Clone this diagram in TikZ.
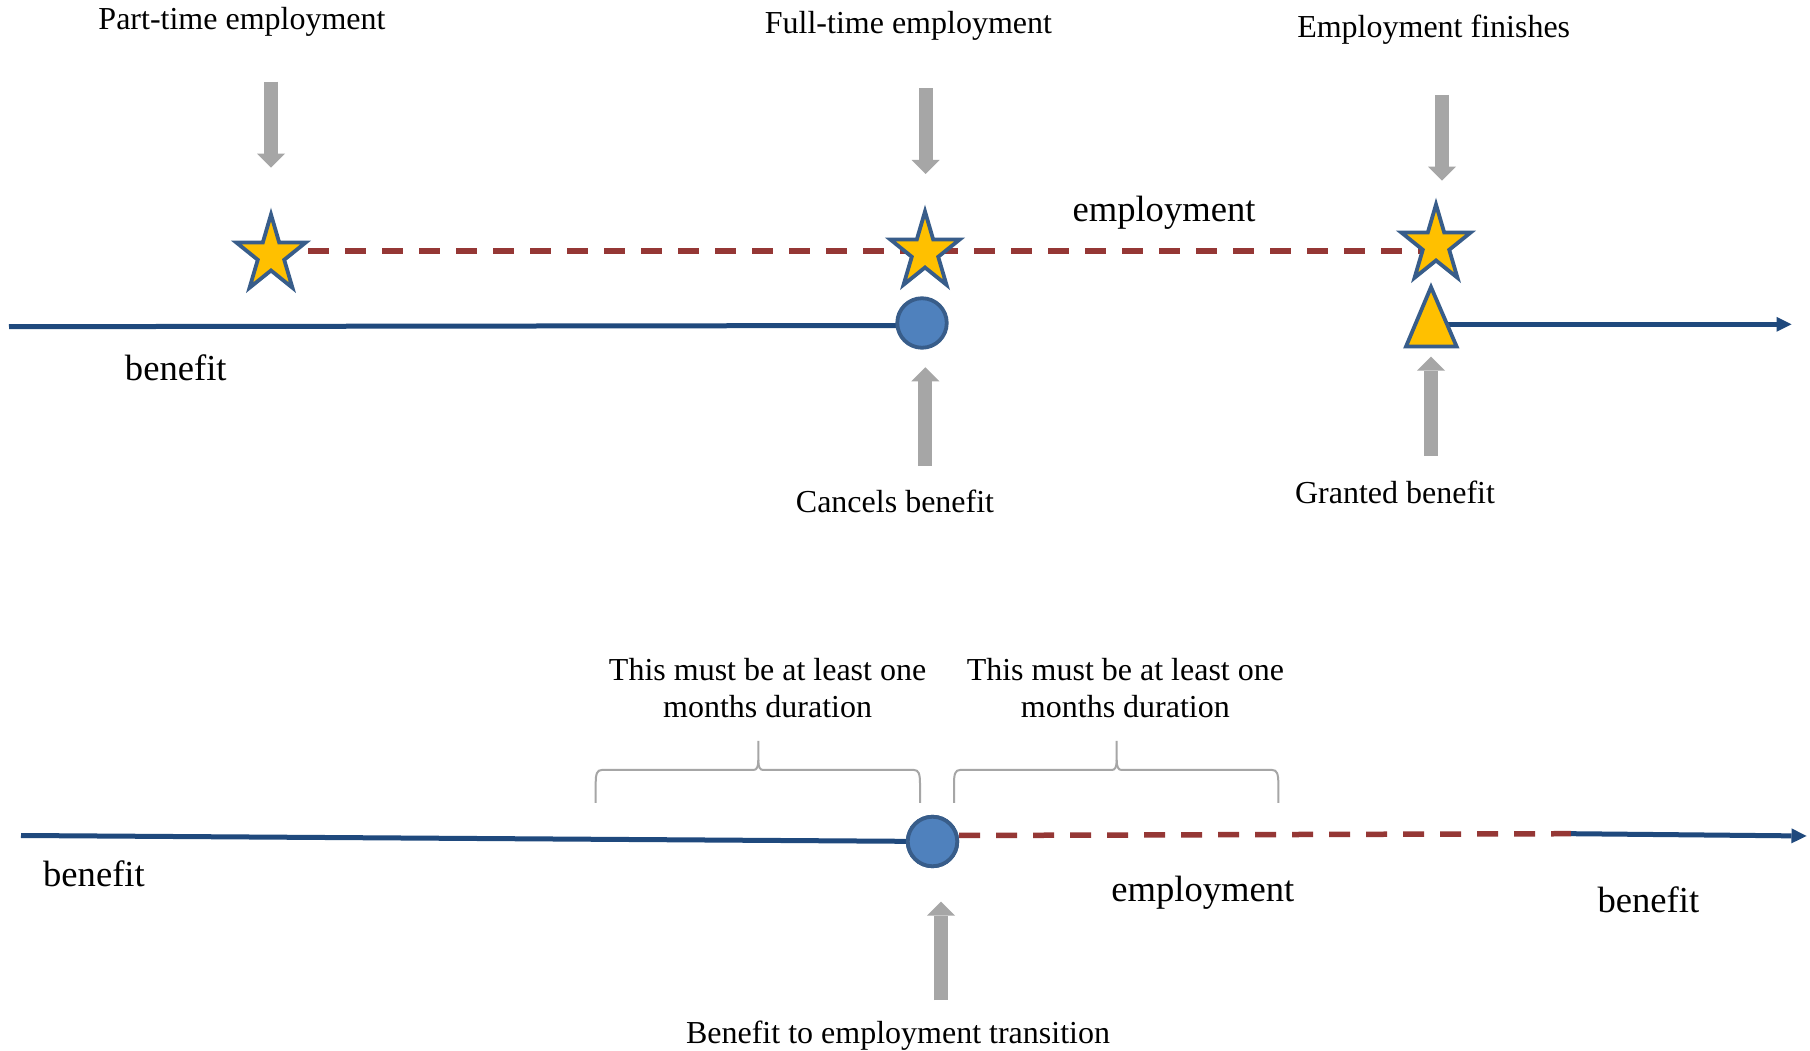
\documentclass[tikz,border=0pt]{standalone}
\usepackage{fontspec}
\setmainfont{Liberation Serif}
\usetikzlibrary{arrows.meta}

\definecolor{pointergray}{RGB}{166,166,166}
\definecolor{starfill}{RGB}{255,192,0}
\definecolor{shapeedge}{RGB}{56,93,138}
\definecolor{dotfill}{RGB}{79,129,189}
\definecolor{benefitblue}{RGB}{31,73,125}
\definecolor{jobred}{RGB}{149,55,53}
\definecolor{bracegray}{RGB}{166,166,166}

% curly bracket opening downwards: left end, tip, right end, base height
\newcommand\tlbrace[4]{%
  \draw[bracket] (#1,#4) -- (#1,{#4+19.5})
    .. controls (#1,{#4+29}) and ({#1+1.3},{#4+33}) .. ({#1+6},{#4+33})
    -- ({#2-5},{#4+33})
    .. controls ({#2-1.5},{#4+33}) and (#2,{#4+36}) .. (#2,{#4+43})
    -- (#2,{#4+62});
  \draw[bracket] (#2,{#4+43})
    .. controls (#2,{#4+36}) and ({#2+1.5},{#4+33}) .. ({#2+5},{#4+33})
    -- ({#3-6},{#4+33})
    .. controls ({#3-1.3},{#4+33}) and (#3,{#4+29}) .. (#3,{#4+19.5})
    -- (#3,#4);
}

\tikzset{
  pointer/.style={draw=pointergray, line width=14pt,
    -{Triangle[length=14pt,width=28pt,line width=0pt]}},
  benefitline/.style={draw=benefitblue, line width=5pt},
  benefitend/.style={benefitline, -{Triangle[length=15pt,width=15pt,line width=0pt]}},
  jobline/.style={draw=jobred, line width=5.5pt, dash pattern=on 21pt off 16pt},
  eventdot/.style={circle, fill=dotfill, draw=shapeedge, line width=3.8pt,
    minimum size=49.5pt, inner sep=0pt},
  eventshape/.style={fill=starfill, draw=shapeedge, line width=3.8pt, line join=miter},
  bracket/.style={draw=bracegray, line width=2pt},
  smalllabel/.style={font=\fontsize{32}{38}\selectfont, inner sep=0pt, anchor=base},
  biglabel/.style={font=\fontsize{36.6}{44}\selectfont, inner sep=0pt, anchor=base},
  eventstar/.pic={
    \filldraw[eventshape]
      (90:36.5 and 40.5) -- (126:13.9 and 15.5) -- (162:36.5 and 40.5)
      -- (198:13.9 and 15.5) -- (234:36.5 and 40.5) -- (270:13.9 and 15.5)
      -- (306:36.5 and 40.5) -- (342:13.9 and 15.5) -- (18:36.5 and 40.5)
      -- (54:13.9 and 15.5) -- cycle;
  },
}

\begin{document}
\begin{tikzpicture}[x=1pt, y=1pt]
  \useasboundingbox[fill=white] (0,0) rectangle (1810,1050);

  % ---------- upper timeline ----------
  \coordinate (s1) at (271,795);
  \coordinate (s2) at (925,798);
  \coordinate (s3) at (1436,805);
  \coordinate (b1s) at (9,723.3);
  \coordinate (tri) at (1431,725.7);
  \coordinate (b1e) at (1791.5,725.7);

  \draw[jobline] (s1 |- 0,799) -- (s3 |- 0,799);
  \draw[benefitline] (b1s) -- (922,724.5);
  \draw[benefitend] (tri) -- (b1e);

  \node[eventdot] (c1) at (922,727) {};
  \pic at (s1) {eventstar};
  \pic at (s2) {eventstar};
  \pic at (s3) {eventstar};
  \filldraw[eventshape] (1431,762.9) -- (1406,703.5) -- (1456.6,703.5) -- cycle;

  \node[smalllabel] (parttime) at (242,1020.7) {Part-time employment};
  \node[smalllabel] (fulltime) at (908.4,1016) {Full-time employment};
  \node[smalllabel] (finish) at (1433.7,1012.6) {Employment finishes};
  \node[biglabel] (emptop) at (1164,828) {employment};
  \node[biglabel] (bentop) at (175.8,669) {benefit};
  \node[smalllabel] (cancel) at (895,537.5) {Cancels benefit};
  \node[smalllabel] (granted) at (1395,546.5) {Granted benefit};

  \coordinate (p1s) at (271,968.3);  \coordinate (p1e) at (271,882.3);
  \coordinate (p2s) at (925.5,961.7); \coordinate (p2e) at (925.5,876);
  \coordinate (p3s) at (1442,955);   \coordinate (p3e) at (1442,869.3);
  \coordinate (q1s) at (925.3,584.3); \coordinate (q1e) at (925.3,682.7);
  \coordinate (q2s) at (1431,594.3); \coordinate (q2e) at (1431,693.3);
  \draw[pointer] (p1s) -- (p1e);
  \draw[pointer] (p2s) -- (p2e);
  \draw[pointer] (p3s) -- (p3e);
  \draw[pointer] (q1s) -- (q1e);
  \draw[pointer] (q2s) -- (q2e);

  % ---------- lower timeline ----------
  \coordinate (b2s) at (21,214.5);
  \coordinate (r2e) at (1571,216.3);
  \coordinate (b2e) at (1806.5,214);
  \node[eventdot] (c2) at (932.5,208.5) {};
  \draw[benefitline] (b2s) -- (c2);
  \draw[jobline] (c2.east |- 0,214.5) -- (r2e);
  \draw[benefitend] (r2e) -- (b2e);
  \node[eventdot] at (c2) {};

  \tlbrace{595.7}{758.3}{920}{247}
  \tlbrace{954}{1116.7}{1278.3}{247}

  \node[smalllabel] (durA1) at (767.6,369.5) {This must be at least one};
  \node[smalllabel] (durA2) at (767.6,332.5) {months duration};
  \node[smalllabel] (durB1) at (1125.4,369.5) {This must be at least one};
  \node[smalllabel] (durB2) at (1125.4,332.5) {months duration};
  \node[biglabel] (benleft) at (94,163) {benefit};
  \node[biglabel] (empbot) at (1202.8,149) {employment};
  \node[biglabel] (benright) at (1648.4,138) {benefit};
  \node[smalllabel] (transition) at (898,7) {Benefit to employment transition};

  \coordinate (q3s) at (941,50);
  \coordinate (q3e) at (941,148.3);
  \draw[pointer] (q3s) -- (q3e);
\end{tikzpicture}
\end{document}
